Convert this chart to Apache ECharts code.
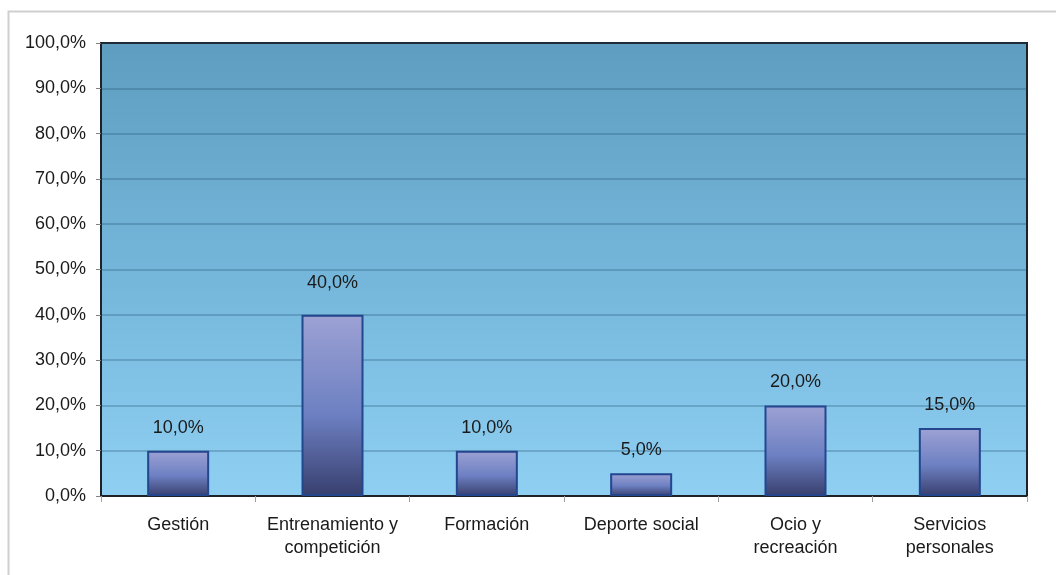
<!DOCTYPE html>
<html>
<head>
<meta charset="utf-8">
<script src="https://cdn.jsdelivr.net/npm/echarts@6/dist/echarts.min.js"></script>
<style>
  html, body { margin: 0; padding: 0; background: #fff; }
  #chart { width: 1056px; height: 575px; }
</style>
</head>
<body>
<div id="chart"></div>
<script>
// categories and values
const categories = [
  'Gestión',
  'Entrenamiento y\ncompetición',
  'Formación',
  'Deporte social',
  'Ocio y\nrecreación',
  'Servicios\npersonales'
]
const values = [10, 40, 10, 5, 20, 15]
const yTicks = [0, 10, 20, 30, 40, 50, 60, 70, 80, 90, 100]

const fmt = (v) => v.toFixed(1).replace('.', ',') + '%'

const chart = echarts.init(document.getElementById('chart'), null, { renderer: 'canvas' })

const option = {
  backgroundColor: '#fff',
  animation: false,
  textStyle: { fontFamily: '"Liberation Sans", Arial, sans-serif' },
  graphic: [
    {
      type: 'rect',
      shape: { x: 8.5, y: 11.5, width: 1200, height: 800 },
      style: { fill: 'none', stroke: '#cfcfcf', lineWidth: 2 },
      silent: true
    }
  ],
  grid: {
    left: 101,
    right: 29,
    top: 43,
    bottom: 79,
    show: true,
    backgroundColor: new echarts.graphic.LinearGradient(0, 0, 0, 1, [
      { offset: 0, color: '#5e9dbf' },
      { offset: 0.5, color: '#74b6da' },
      { offset: 1, color: '#8ecff2' }
    ]),
    borderColor: '#1e2226',
    borderWidth: 2
  },
  xAxis: {
    type: 'category',
    data: categories,
    axisLine: { show: true, lineStyle: { color: '#1e2226', width: 2 } },
    axisTick: { show: true, length: 6, lineStyle: { color: '#a0a0a0', width: 1 } },
    axisLabel: {
      color: '#1a1a1a',
      fontSize: 18,
      lineHeight: 23,
      margin: 18,
      interval: 0
    }
  },
  yAxis: {
    type: 'value',
    min: 0,
    max: 100,
    interval: 10,
    axisLine: { show: true, lineStyle: { color: '#1e2226', width: 2 } },
    axisTick: { show: true, length: 5, lineStyle: { color: '#808080' } },
    splitLine: { lineStyle: { color: 'rgba(30, 70, 100, 0.35)', width: 1.5 } },
    axisLabel: {
      color: '#1a1a1a',
      fontSize: 18,
      margin: 15,
      formatter: (v) => (yTicks.includes(v) ? fmt(v) : '')
    }
  },
  series: [
    {
      type: 'bar',
      barWidth: 62,
      data: values.map((v, i) => (i === 1 ? { value: v, label: { distance: 23 } } : v)),
      itemStyle: {
        color: new echarts.graphic.LinearGradient(0, 0, 0, 1, [
          { offset: 0, color: '#9da2d4' },
          { offset: 0.55, color: '#6d80c2' },
          { offset: 1, color: '#383f6e' }
        ]),
        borderColor: '#23468f',
        borderWidth: 2
      },
      label: {
        show: true,
        position: 'top',
        distance: 14,
        color: '#1a1a1a',
        fontSize: 18,
        formatter: (p) => fmt(p.value)
      }
    }
  ]
}

chart.setOption(option)
</script>
</body>
</html>
